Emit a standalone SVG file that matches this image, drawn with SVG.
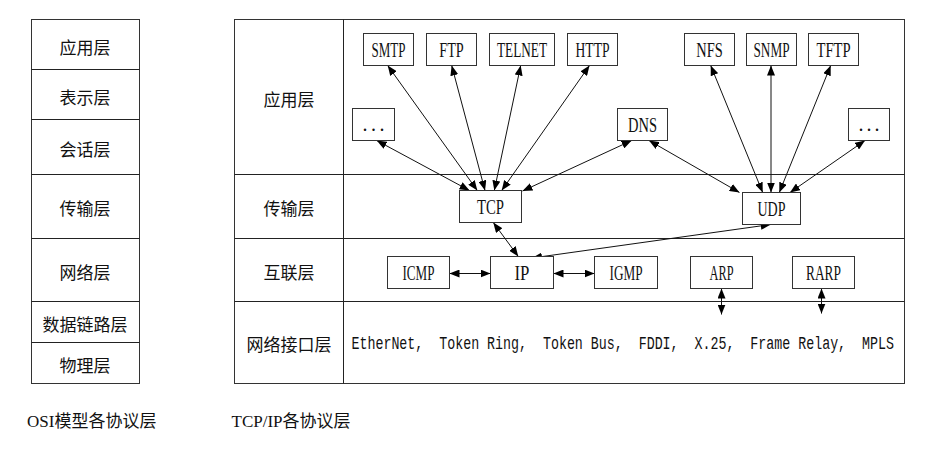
<svg xmlns="http://www.w3.org/2000/svg" width="934" height="452" viewBox="0 0 934 452">
<defs>
<marker id="ah" markerUnits="userSpaceOnUse" markerWidth="10" markerHeight="8" refX="10" refY="4" orient="auto-start-reverse">
<path d="M0,0 L10,4 L0,8 z" fill="#000"/>
</marker>
<style>
.tbl{fill:#fff;stroke:#333;stroke-width:1}
.ln{stroke:#222;stroke-width:1;fill:none}
.box{fill:#fff;stroke:#333;stroke-width:1}
.cn{stroke:#111;stroke-width:1;fill:none;marker-start:url(#ah);marker-end:url(#ah)}
.zh{font-family:"Noto Sans CJK SC",sans-serif;font-size:17px;fill:#111;text-anchor:middle;dominant-baseline:central}
.lb{font-family:"Liberation Serif",serif;font-size:20px;fill:#111;text-anchor:middle}
.cap{font-family:"Liberation Serif","Noto Sans CJK SC",serif;font-size:17px;fill:#111;dominant-baseline:central}
.mono{font-family:"Liberation Mono",monospace;font-size:13.3px;fill:#111;white-space:pre}
</style>
</defs>
<rect width="934" height="452" fill="#fff"/>

<g id="osi">
<rect class="tbl" x="31.5" y="19.5" width="108" height="364"/>
<line class="ln" x1="31.5" y1="69.5" x2="139.5" y2="69.5"/>
<line class="ln" x1="31.5" y1="119.5" x2="139.5" y2="119.5"/>
<line class="ln" x1="31.5" y1="174.5" x2="139.5" y2="174.5"/>
<line class="ln" x1="31.5" y1="238.5" x2="139.5" y2="238.5"/>
<line class="ln" x1="31.5" y1="301.5" x2="139.5" y2="301.5"/>
<line class="ln" x1="31.5" y1="342.5" x2="139.5" y2="342.5"/>
<text class="zh" x="85" y="46">应用层</text>
<text class="zh" x="85" y="96">表示层</text>
<text class="zh" x="85" y="148">会话层</text>
<text class="zh" x="85" y="207">传输层</text>
<text class="zh" x="85" y="271">网络层</text>
<text class="zh" x="85" y="323">数据链路层</text>
<text class="zh" x="85" y="364">物理层</text>
</g>

<g id="tcpip">
<rect class="tbl" x="234.5" y="19.5" width="670" height="364"/>
<line class="ln" x1="343.5" y1="19.5" x2="343.5" y2="383.5"/>
<line class="ln" x1="234.5" y1="174.5" x2="904.5" y2="174.5"/>
<line class="ln" x1="234.5" y1="238.5" x2="904.5" y2="238.5"/>
<line class="ln" x1="234.5" y1="301.5" x2="904.5" y2="301.5"/>
<text class="zh" x="289" y="98">应用层</text>
<text class="zh" x="289" y="207">传输层</text>
<text class="zh" x="289" y="271">互联层</text>
<text class="zh" x="289" y="343">网络接口层</text>
</g>

<g id="connectors">
<line class="cn" x1="376.7" y1="140.5" x2="469.5" y2="190.5"/>
<line class="cn" x1="387.7" y1="65.5" x2="477.3" y2="190.5"/>
<line class="cn" x1="451.7" y1="65.5" x2="485" y2="190.5"/>
<line class="cn" x1="520.7" y1="65.5" x2="494.3" y2="190.5"/>
<line class="cn" x1="589.5" y1="65.5" x2="501.7" y2="190.5"/>
<line class="cn" x1="631.7" y1="140.5" x2="522.5" y2="191"/>
<line class="cn" x1="649" y1="140.5" x2="739.5" y2="192.5"/>
<line class="cn" x1="710.7" y1="65.5" x2="762.7" y2="192.5"/>
<line class="cn" x1="771" y1="65.5" x2="771" y2="192.5"/>
<line class="cn" x1="830.7" y1="65.5" x2="779.3" y2="192.5"/>
<line class="cn" x1="865" y1="140.5" x2="790" y2="192.5"/>
<line class="cn" x1="493.3" y1="222.5" x2="518.3" y2="256.5"/>
<line class="cn" x1="770.7" y1="224.5" x2="532" y2="258"/>
<line class="cn" x1="449.5" y1="273.5" x2="490.5" y2="273.5"/>
<line class="cn" x1="553.5" y1="273.5" x2="594.5" y2="273.5"/>
<line class="cn" x1="721.5" y1="288.5" x2="721.5" y2="314.5"/>
<line class="cn" x1="821.5" y1="288.5" x2="821.5" y2="313.5"/>
</g>

<g id="n-smtp"><rect class="box" x="363.5" y="33.5" width="50" height="32"/><text class="lb" x="388.5" y="56.5" textLength="34" lengthAdjust="spacingAndGlyphs">SMTP</text></g>
<g id="n-ftp"><rect class="box" x="426.5" y="33.5" width="50" height="32"/><text class="lb" x="451.5" y="56.5" textLength="24.5" lengthAdjust="spacingAndGlyphs">FTP</text></g>
<g id="n-telnet"><rect class="box" x="489.5" y="33.5" width="65" height="32"/><text class="lb" x="522" y="56.5" textLength="50" lengthAdjust="spacingAndGlyphs">TELNET</text></g>
<g id="n-http"><rect class="box" x="567.5" y="33.5" width="50" height="32"/><text class="lb" x="592.5" y="56.5" textLength="34" lengthAdjust="spacingAndGlyphs">HTTP</text></g>
<g id="n-nfs"><rect class="box" x="684.5" y="33.5" width="50" height="32"/><text class="lb" x="709.5" y="56.5" textLength="26.5" lengthAdjust="spacingAndGlyphs">NFS</text></g>
<g id="n-snmp"><rect class="box" x="746.5" y="33.5" width="50" height="32"/><text class="lb" x="771.5" y="56.5" textLength="36" lengthAdjust="spacingAndGlyphs">SNMP</text></g>
<g id="n-tftp"><rect class="box" x="808.5" y="33.5" width="50" height="32"/><text class="lb" x="833.5" y="56.5" textLength="34" lengthAdjust="spacingAndGlyphs">TFTP</text></g>
<g id="n-etc1"><rect class="box" x="352.5" y="108.5" width="42" height="32"/><text class="lb" x="373.5" y="131" textLength="22" lengthAdjust="spacing">...</text></g>
<g id="n-dns"><rect class="box" x="617.5" y="108.5" width="50" height="32"/><text class="lb" x="642.5" y="131.5" textLength="29" lengthAdjust="spacingAndGlyphs">DNS</text></g>
<g id="n-etc2"><rect class="box" x="848.5" y="108.5" width="41" height="32"/><text class="lb" x="869" y="131" textLength="21" lengthAdjust="spacing">...</text></g>
<g id="n-tcp"><rect class="box" x="459.5" y="190.5" width="62" height="32"/><text class="lb" x="490.5" y="213.5" textLength="27" lengthAdjust="spacingAndGlyphs">TCP</text></g>
<g id="n-udp"><rect class="box" x="742.5" y="192.5" width="58" height="32"/><text class="lb" x="771.5" y="215.5" textLength="28" lengthAdjust="spacingAndGlyphs">UDP</text></g>
<g id="n-icmp"><rect class="box" x="387.5" y="256.5" width="62" height="32"/><text class="lb" x="418.5" y="279.5" textLength="32" lengthAdjust="spacingAndGlyphs">ICMP</text></g>
<g id="n-ip"><rect class="box" x="490.5" y="256.5" width="63" height="32"/><text class="lb" x="522" y="279.5" textLength="15" lengthAdjust="spacingAndGlyphs">IP</text></g>
<g id="n-igmp"><rect class="box" x="594.5" y="256.5" width="63" height="32"/><text class="lb" x="626" y="279.5" textLength="33" lengthAdjust="spacingAndGlyphs">IGMP</text></g>
<g id="n-arp"><rect class="box" x="690.5" y="256.5" width="62" height="32"/><text class="lb" x="721.5" y="279.5" textLength="24" lengthAdjust="spacingAndGlyphs">ARP</text></g>
<g id="n-rarp"><rect class="box" x="792.5" y="256.5" width="62" height="32"/><text class="lb" x="823.5" y="279.5" textLength="35" lengthAdjust="spacingAndGlyphs">RARP</text></g>

<g id="n-netif">
<text class="mono" transform="translate(351.5,349) scale(1,1.4)" x="0" y="0" xml:space="preserve">EtherNet,  Token Ring,  Token Bus,  FDDI,  X.25,  Frame Relay,  MPLS</text>
</g>

<g id="captions">
<text class="cap" x="27" y="421.5">OSI模型各协议层</text>
<text class="cap" x="231.5" y="421.5">TCP/IP各协议层</text>
</g>
</svg>
